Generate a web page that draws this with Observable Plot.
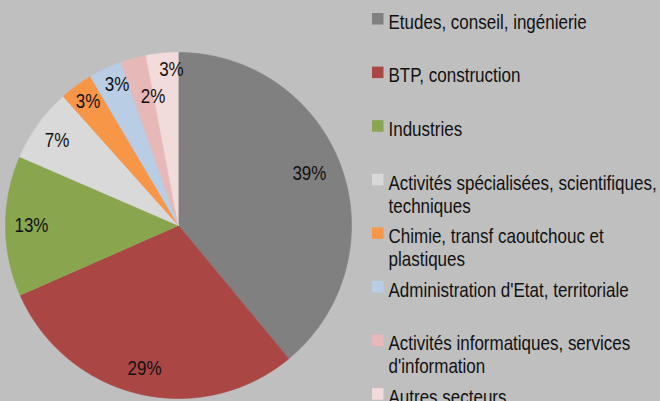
<!DOCTYPE html>
<html>
<head>
<meta charset="utf-8">
<script src="https://cdn.jsdelivr.net/npm/d3@7"></script>
<script src="https://cdn.jsdelivr.net/npm/@observablehq/plot@0.6"></script>
<style>
  html, body { margin: 0; padding: 0; background: #bfbfbf; }
  #chart svg { display: block; }
</style>
</head>
<body>
<div id="chart"></div>
<script>
// ---- data ----
const categories = [
  "Etudes, conseil, ingénierie",
  "BTP, construction",
  "Industries",
  "Activités spécialisées, scientifiques, techniques",
  "Chimie, transf caoutchouc et plastiques",
  "Administration d'Etat, territoriale",
  "Activités informatiques, services d'information",
  "Autres secteurs"
];
const legendLabels = [
  "Etudes, conseil, ingénierie",
  "BTP, construction",
  "Industries",
  "Activités spécialisées, scientifiques,\ntechniques",
  "Chimie, transf caoutchouc et\nplastiques",
  "Administration d'Etat, territoriale",
  "Activités informatiques, services\nd'information",
  "Autres secteurs"
];
const values = [39.0, 29.4, 13.1, 6.9, 3.1, 3.1, 2.4, 3.0];
const colors = ["#808080", "#aa4644", "#89a54e", "#d9d9d9", "#f79646", "#b9cde5", "#e6b9b8", "#f2dcdb"];
const pctLabels = values.map(v => Math.round(v) + "%");

// ---- layout ----
const W = 660, H = 401;
const CX = 178, CY = 225, R = 173;
const labelRadius = [0.815, 0.85, 0.85, 0.855, 0.885, 0.89, 0.76, 0.9];
const labelAngleNudge = [-2, 0, 0, -1, 0, 1.5, 4, 2.8];
const legendX = 372, legendSwatch = 11.5, legendTop = 13, legendStep = 53.6;
const NARROW = 0.85;
const FONT = "'Liberation Sans', Arial, sans-serif";

// ---- geometry from data ----
const total = d3.sum(values);
const slices = [];
let acc = 0;
values.forEach((v, i) => {
  const a0 = acc / total * 2 * Math.PI;
  acc += v;
  const a1 = acc / total * 2 * Math.PI;
  slices.push({cat: categories[i], a0, a1, i});
});

const piePts = [];
for (const s of slices) {
  piePts.push({cat: s.cat, x: 0, y: 0});
  const n = Math.max(2, Math.ceil((s.a1 - s.a0) / (Math.PI / 360)));
  for (let k = 0; k <= n; k++) {
    const a = s.a0 + (s.a1 - s.a0) * k / n;
    piePts.push({cat: s.cat, x: R * Math.sin(a), y: -R * Math.cos(a)});
  }
}

const labelData = slices.map(s => {
  const a = (s.a0 + s.a1) / 2 + labelAngleNudge[s.i] * Math.PI / 180;
  const r = R * labelRadius[s.i];
  return {text: pctLabels[s.i], x: r * Math.sin(a), y: -r * Math.cos(a)};
});

const legendData = categories.map((c, i) => ({
  cat: c,
  label: legendLabels[i],
  x1: legendX - CX, x2: legendX + legendSwatch - CX,
  y1: legendTop + i * legendStep - CY, y2: legendTop + i * legendStep + legendSwatch - CY,
  tx: legendX + 16 - CX, ty: legendTop - 1 + i * legendStep - CY
}));

const chart = Plot.plot({
  width: W,
  height: H,
  margin: 0,
  x: {domain: [-CX, W - CX], range: [0, W], axis: null},
  y: {domain: [-CY, H - CY], range: [0, H], axis: null},
  color: {domain: categories, range: colors},
  style: {background: "#bfbfbf", fontFamily: FONT, fontSize: "20px", color: "#111"},
  marks: [
    Plot.line(piePts, {x: "x", y: "y", z: "cat", fill: "cat", stroke: "cat", strokeWidth: 0.6}),
    Plot.text(labelData, {x: "x", y: "y", text: "text", fill: "#111", fontSize: 20}),
    Plot.rect(legendData, {x1: "x1", x2: "x2", y1: "y1", y2: "y2", fill: "cat"}),
    Plot.text(legendData, {
      x: "tx", y: "ty", text: "label", textAnchor: "start", lineAnchor: "top",
      lineHeight: 1.15, fill: "#111", fontSize: 20
    })
  ]
});

// condense the text horizontally (narrow face look)
chart.querySelectorAll("text").forEach(t => {
  let tr = t.getAttribute("transform");
  if (!tr) {
    const x = +(t.getAttribute("x") || 0), y = +(t.getAttribute("y") || 0);
    t.setAttribute("x", 0); t.setAttribute("y", 0);
    tr = `translate(${x},${y})`;
  }
  t.setAttribute("transform", tr + ` scale(${NARROW},1)`);
});
document.getElementById("chart").appendChild(chart);
</script>
</body>
</html>
